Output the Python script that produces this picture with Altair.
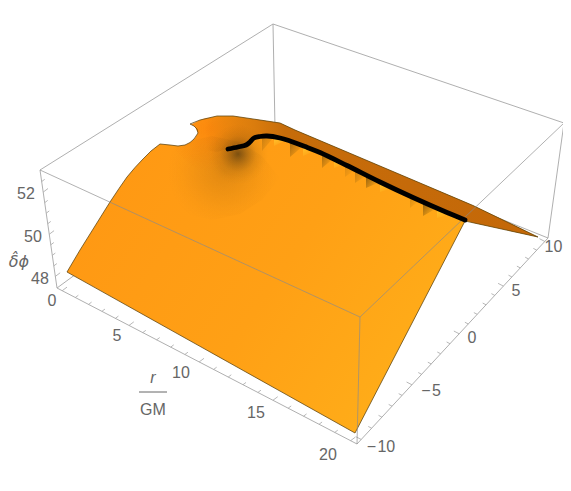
import altair as alt
import pandas as pd

# ---------- 3D axis values ----------
r_ticks = list(range(0, 21))
phi_ticks = list(range(-10, 11))
z_ticks = [48 + 0.5 * i for i in range(0, 10)]
r_labels = [0, 5, 10, 15, 20]
phi_labels = [-10, -5, 0, 5, 10]
z_labels = [52, 50, 48]

# ---------- box corners on the picture plane ----------
A, B, C, D = (57, 288), (357, 444), (548, 238), (275, 128)
E, F, G, H = (40, 170), (360, 317), (564, 123), (273, 24)

# ---------- surface on the picture plane ----------
surf_x = [67, 80, 95, 110, 119, 127, 135, 143, 151, 160, 170, 178, 185, 190, 200, 217, 233, 260, 280, 295, 347, 355, 413, 465, 473, 497, 538]
surf_top = [272, 250, 226, 202, 188.5, 177, 167.5, 159, 151, 144, 138.5, 133.5, 129, 125, 120, 116, 116, 120, 123, 130, 152, 155.5, 180, 202, 205.5, 217, 237]
surf_low = [272, 279.3, 287.6, 296, 301, 305.5, 310, 314.5, 319, 324, 329.6, 334, 338, 340.8, 346.3, 355.9, 364.8, 379.9, 391, 399.5, 428.5, 433, 321.2, 221, 222.8, 228, 237]

# the notch cut out of the surface
notch_x = [160, 170, 178, 185, 190, 193, 195, 198]
notch_top = [143, 136.7, 131.6, 127.2, 124, 125.5, 127, 133]
notch_low = [144, 145, 146, 145, 142.5, 140, 138, 133]

# the surface's full outline, walked in order
rim_x = [67, 80, 95, 110, 119, 127, 135, 143, 151, 160, 170, 178, 185, 190, 194, 198, 197, 194, 190, 200, 217, 233, 260, 280, 295, 347, 413, 473, 538, 497, 465, 355, 67]
rim_y = [272, 250, 226, 202, 188.5, 177, 167.5, 159, 151, 144, 145, 146, 145, 142.5, 139, 133, 129, 126, 124, 120, 116, 116, 120, 123, 130, 152, 180, 205.5, 237, 228, 221, 433, 272]

# back (brown) part of the surface
back_x = [205, 217, 233, 260, 280, 295, 347, 413, 465, 473, 497, 538]
back_top = [118, 116, 116, 120, 123, 130, 152, 180, 202, 205.5, 217, 237]
back_low = [150, 152, 147, 137, 138, 141, 165, 197, 220, 222.8, 228, 237]

# curve on the ridge
line_x = [228, 238, 246, 250, 254, 260, 267, 280, 290, 305, 320, 347, 380, 413, 447, 465]
line_y = [149, 147, 145, 142, 138, 136.5, 136, 138, 141, 146.5, 152.5, 165.5, 182, 197.5, 212.5, 220]

# saw-tooth shadows under the ridge: left x, left y, tip y, right x, right y, strength
dark_teeth = [
    (262, 139, 151, 274, 137, 0.28),
    (290, 141, 157, 303, 146, 0.48),
    (322, 153, 168, 334, 158, 0.48),
    (345, 164, 177, 356, 169, 0.20),
    (355, 169, 183, 367, 175, 0.32),
    (366, 175, 188, 380, 182, 0.60),
    (410, 196, 208, 420, 200, 0.20),
    (423, 202, 216, 437, 208, 0.58),
]
light_teeth = [
    (274, 138, 146, 286, 140),
    (303, 146, 156, 315, 151),
    (334, 158, 168, 345, 164),
    (380, 182, 192, 392, 188),
    (437, 208, 218, 451, 214),
]

# soft blotches
glow_x, glow_top, glow_low = [175, 190, 205, 225, 245, 262], [150, 125, 118, 117, 119, 125], [150, 165, 175, 175, 165, 150]
spot1_x = [200, 210, 222, 238, 254, 266, 276]
spot1_top = [160, 140, 129, 124, 129, 140, 160]
spot1_low = [160, 180, 191, 196, 191, 180, 160]
spot2_x = [140, 160, 185, 212, 240, 262, 280]
spot2_top = [178, 156, 142, 136, 142, 156, 178]
spot2_low = [178, 200, 214, 220, 214, 200, 178]

# ---------- helpers ----------
def proj(t, k):
    return t / (t + k * (1 - t))

def along(p, q, f):
    return (p[0] + (q[0] - p[0]) * f, p[1] + (q[1] - p[1]) * f)

def r_pos(v):
    return along(A, B, proj((v + 0.4) / 20.8, 1.11))

def phi_pos(v):
    return along(B, C, proj((v + 10.4) / 20.8, 0.869))

def z_pos(v):
    return along(A, E, (v - 47.45) / 5.6)

PLANE_X = alt.Scale(domain=[8, 563], nice=False, zero=False)
PLANE_Y = alt.Scale(domain=[483, 8], nice=False, zero=False)
X = alt.X("x:Q", scale=PLANE_X, axis=None)
Y = alt.Y("y:Q", scale=PLANE_Y, axis=None)

def rules(rows, color, width, opacity=1.0):
    return alt.Chart(pd.DataFrame(rows, columns=["x", "y", "x2", "y2"])).mark_rule(
        color=color, strokeWidth=width, opacity=opacity
    ).encode(x=X, y=Y, x2="x2:Q", y2="y2:Q")

def area(df, fill, **kw):
    return alt.Chart(df).mark_area(color=fill, opacity=1, **kw).encode(
        x=X, y=Y, y2="y2:Q", detail="id:N"
    )

def stop(c, o):
    return alt.GradientStop(color=c, offset=o)

def frame(xs, tops, lows, name="a"):
    return pd.DataFrame({"x": xs, "y": tops, "y2": lows, "id": name})

# ---------- box ----------
def edge(p, q):
    return (p[0], p[1], q[0], q[1])

back_edges = rules([edge(E, H), edge(H, G), edge(H, D), edge(A, D), edge(C, D),
                    edge(A, B), edge(B, C), edge(A, E), edge(C, G)], "#a6a6a6", 0.9)
front_edges = rules([edge(E, F), edge(F, G), edge(F, B)], "#8a8a8a", 0.9, 0.75)

# ---------- surface ----------
base_grad = alt.Gradient(gradient="linear", x1=0, y1=0.3, x2=1, y2=0.75,
                         stops=[stop("#FF9813", 0), stop("#FFA015", 0.45), stop("#FFB41B", 1)])
surface = area(frame(surf_x, surf_top, surf_low), base_grad)

top_glow = area(frame(glow_x, glow_top, glow_low, "g"),
                alt.Gradient(gradient="radial", x1=0.4, y1=0.3, r1=0, x2=0.4, y2=0.3, r2=0.5,
                             stops=[stop("rgba(250,125,8,0.6)", 0), stop("rgba(250,125,8,0)", 1)]))

back_grad = alt.Gradient(gradient="linear", x1=0, y1=0, x2=1, y2=0,
                         stops=[stop("rgba(200,110,10,0)", 0), stop("rgba(205,112,10,0.55)", 0.1),
                                stop("#C66C0A", 0.24), stop("#C46808", 1)])
back = area(frame(back_x, back_top, back_low), back_grad)

spot2 = area(frame(spot2_x, spot2_top, spot2_low, "s2"),
             alt.Gradient(gradient="radial", x1=0.6, y1=0.45, r1=0, x2=0.6, y2=0.45, r2=0.4,
                          stops=[stop("rgba(130,75,10,0.24)", 0), stop("rgba(135,78,10,0.13)", 0.4),
                                 stop("rgba(145,82,10,0.04)", 0.75), stop("rgba(150,85,10,0)", 1)]))
spot1 = area(frame(spot1_x, spot1_top, spot1_low, "s1"),
             alt.Gradient(gradient="radial", x1=0.5, y1=0.42, r1=0, x2=0.5, y2=0.42, r2=0.4,
                          stops=[stop("rgba(80,55,15,0.72)", 0), stop("rgba(95,62,15,0.42)", 0.3),
                                 stop("rgba(115,72,12,0.15)", 0.6), stop("rgba(125,78,10,0.04)", 0.85),
                                 stop("rgba(130,80,10,0)", 1)]))

tooth_layers = []
for n, (xa, ya, ytip, xb, yb, alpha) in enumerate(dark_teeth):
    d = pd.DataFrame({"x": [xa, xb], "y": [ya, yb], "y2": [ytip, yb], "id": f"d{n}"})
    tooth_layers.append(area(d, alt.Gradient(
        gradient="linear", x1=0, y1=0.1, x2=0.9, y2=0.8,
        stops=[stop(f"rgba(75,55,10,{alpha})", 0), stop(f"rgba(85,60,10,{alpha * 0.55:.2f})", 0.45),
               stop("rgba(120,80,10,0)", 1)])))
for n, (xa, ya, ytip, xb, yb) in enumerate(light_teeth):
    d = pd.DataFrame({"x": [xa, xb], "y": [ya, yb], "y2": [ytip, yb], "id": f"l{n}"})
    tooth_layers.append(area(d, alt.Gradient(
        gradient="linear", x1=0, y1=0, x2=0.7, y2=1,
        stops=[stop("rgba(255,214,60,0.75)", 0), stop("rgba(255,200,40,0)", 1)])))

notch = area(frame(notch_x, notch_top, notch_low, "n"), "#ffffff")

rim = alt.Chart(pd.DataFrame({"x": rim_x, "y": rim_y, "i": range(len(rim_x))})).mark_line(
    color="#5c4310", strokeWidth=0.9, opacity=0.85, strokeJoin="round"
).encode(x=X, y=Y, order=alt.Order("i:Q"))

ridge = alt.Chart(pd.DataFrame({"x": line_x, "y": line_y, "i": range(len(line_x))})).mark_line(
    color="#000000", strokeWidth=4.8, strokeCap="round", interpolate="catmull-rom"
).encode(x=X, y=Y, order=alt.Order("i:Q"))

# ---------- ticks ----------
def tick_rows(values, pos, direction, is_major):
    rows = []
    for v in values:
        px, py = pos(v)
        ln = 6 if is_major(v) else 3.8
        rows.append((px, py, px + direction[0] * ln, py + direction[1] * ln))
    return rows

rows = (tick_rows(r_ticks, r_pos, (0.8, -0.6), lambda v: v % 5 == 0)
        + tick_rows(phi_ticks, phi_pos, (-0.89, -0.46), lambda v: v % 5 == 0)
        + tick_rows(z_ticks, z_pos, (0.8, -0.6), lambda v: v % 2 == 0))
ticks = rules(rows, "#a6a6a6", 0.8)

# ---------- labels ----------
label_pos = {
    "r": [(52, 301), (117, 336), (181, 373), (256, 413), (328, 455)],
    "phi": [(381, 447), (431, 391), (472, 338), (516, 291), (553.5, 247)],
    "z": [(26, 194), (33, 237), (40, 279)],
}
texts = ([str(v) for v in r_labels]
         + [f"\u2212\u200a{-v}" if v < 0 else str(v) for v in phi_labels]
         + [str(v) for v in z_labels])
coords = label_pos["r"] + label_pos["phi"] + label_pos["z"]
lab_df = pd.DataFrame({"x": [c[0] for c in coords], "y": [c[1] for c in coords], "t": texts})
labels = alt.Chart(lab_df).mark_text(
    font="Liberation Sans", fontSize=16, color="#666666", align="center", baseline="middle"
).encode(x=X, y=Y, text="t:N")

gm = alt.Chart(pd.DataFrame({"x": [153], "y": [410], "t": ["GM"]})).mark_text(
    font="Liberation Sans", fontSize=16, color="#666666", align="center", baseline="middle"
).encode(x=X, y=Y, text="t:N")
r_title = alt.Chart(pd.DataFrame({"x": [153], "y": [378], "t": ["r"]})).mark_text(
    font="Liberation Sans", fontStyle="italic", fontSize=16, color="#666666", align="center", baseline="middle"
).encode(x=X, y=Y, text="t:N")
frac = rules([(139, 392, 167, 392)], "#666666", 1)
phi_title = alt.Chart(pd.DataFrame({"x": [19], "y": [262], "t": ["\u03b4\u0302\u03d5"]})).mark_text(
    font="DejaVu Sans", fontStyle="italic", fontSize=16, color="#666666", align="center", baseline="middle"
).encode(x=X, y=Y, text="t:N")

chart = alt.layer(
    back_edges, ticks, surface, top_glow, back, spot2, spot1, *tooth_layers,
    notch, rim, front_edges, ridge, labels, gm, r_title, frac, phi_title
).properties(width=555, height=475, padding=0, autosize="none", background="white"
).configure_view(stroke=None)

chart.save("out.html", embed_options={"renderer": "svg", "actions": False})
